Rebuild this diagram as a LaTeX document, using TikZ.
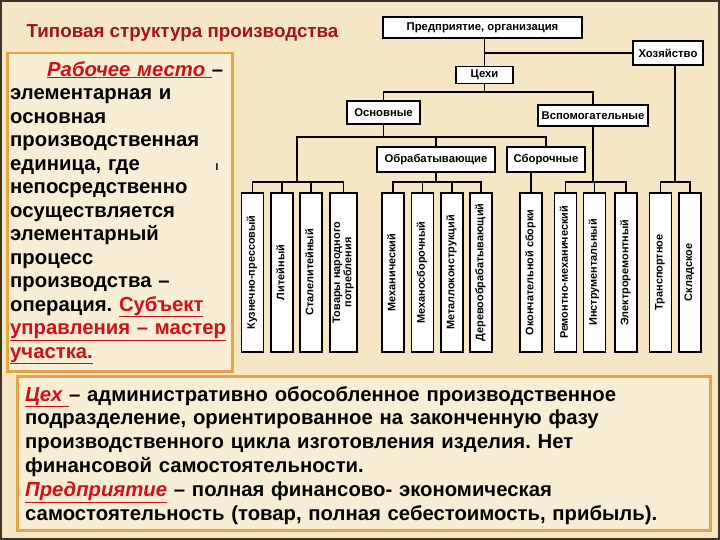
\documentclass[tikz,border=0pt]{standalone}
\usepackage{fontspec}
\setmainfont{Liberation Sans}
\usetikzlibrary{calc}
\definecolor{bgcream}{HTML}{F5E7C4}
\definecolor{framegold}{HTML}{E3A54A}
\definecolor{titlered}{HTML}{A8121A}
\definecolor{linkred}{HTML}{D0101A}
\definecolor{slideedge}{HTML}{3C3424}
\newcommand{\vtext}[1]{\rotatebox{90}{\begin{tabular}{@{}c@{}}#1\end{tabular}}}
\newcommand{\redul}[1]{{\color{linkred}\underline{#1}}}
\frenchspacing

\begin{document}
\begin{tikzpicture}[x=1pt,y=-1pt]
    \tikzset{
        ts box/.style={draw,line width=1.6pt,fill=white,inner sep=1pt,font=\fontsize{11.3}{12}\selectfont\bfseries},
        ts col/.style={draw,line width=1.6pt,fill=white,minimum width=22pt,minimum height=159pt,inner sep=0pt,font=\fontsize{10.9}{11.2}\selectfont\bfseries},
        ts edge/.style={line width=1.6pt},
        ts frame/.style={draw=framegold,line width=2.5pt,fill=bgcream!70!white,anchor=north west},
        ts text/.style={anchor=north west,align=left,inner sep=0pt}
    }
    \useasboundingbox (0,0) rectangle (720,540);
    \fill[bgcream] (0,0) rectangle (720,540);
    \draw[slideedge,line width=2pt] (1,1) rectangle (719,539);

    % title and text boxes
    \node[font=\fontsize{18.8}{20}\selectfont\bfseries,text=titlered] (title) at (182.5,33) {Типовая структура производства};
    \node[ts frame,minimum width=225pt,minimum height=318pt] (lbox) at (6,52) {};
    \node[ts text,text width=222pt,font=\fontsize{20.3}{23.5}\selectfont\bfseries] (ltext) at (10,61) {\hspace*{37pt}\redul{\itshape Рабочее место }–\\
        элементарная и\\
        основная\\
        производственная\\
        единица, где\\
        непосредственно\\
        осуществляется\\
        элементарный\\
        процесс\\
        производства –\\
        операция. \redul{Субъект}\\
        \redul{управления – мастер}\\
        \redul{участка.}};
    \node[font=\fontsize{10}{10}\selectfont\bfseries] (tick) at (217,167) {I};
    \node[ts frame,minimum width=693pt,minimum height=154pt] (bbox) at (16,375) {};
    \node[ts text,text width=680pt,font=\fontsize{20.3}{23.8}\selectfont\bfseries] (btext) at (25,386) {\redul{\itshape Цех }– административно обособленное производственное\\
        подразделение, ориентированное на законченную фазу\\
        производственного цикла изготовления изделия. Нет\\
        финансовой самостоятельности.\\
        \redul{\itshape Предприятие} – полная финансово- экономическая\\
        самостоятельность (товар, полная себестоимость, прибыль).};

    % chart
    \node[ts box,minimum width=199pt,minimum height=21pt] (pred) at (482.5,27.5) {Предприятие, организация};
    \node[ts box,minimum width=70pt,minimum height=24pt] (khoz) at (668,53) {Хозяйство};
    \node[ts box,minimum width=57pt,minimum height=17pt] (cekhi) at (484.5,75) {Цехи};
    \node[ts box,minimum width=73pt,minimum height=23pt] (osn) at (383.5,112.5) {Основные};
    \node[ts box,minimum width=110pt,minimum height=21pt] (vspom) at (593,115.5) {Вспомогательные};
    \node[ts box,minimum width=118pt,minimum height=25pt] (obr) at (436,159.5) {Обрабатывающие};
    \node[ts box,minimum width=78pt,minimum height=25pt] (sbor) at (546,159.5) {Сборочные};

    \node[ts col] (kuz) at (252.5,272.5) {\vtext{Кузнечно-прессовый}};
    \node[ts col] (lit) at (282,272.5) {\vtext{Литейный}};
    \node[ts col] (stal) at (311,272.5) {\vtext{Сталелитейный}};
    \node[ts col,minimum width=27pt] (tov) at (343.5,272.5) {\vtext{Товары народного\\потребления}};
    \node[ts col] (mekh) at (393,272.5) {\vtext{Механический}};
    \node[ts col] (mekhsb) at (422.5,272.5) {\vtext{Механосборочный}};
    \node[ts col] (met) at (452,272.5) {\vtext{Металлоконструкций}};
    \node[ts col] (der) at (481,272.5) {\vtext{Деревообрабатывающий}};
    \node[ts col] (okon) at (531,272.5) {\vtext{Окончательной сборки}};
    \node[ts col] (rem) at (565.5,272.5) {\vtext{Ремонтно-механический}};
    \node[ts col] (instr) at (594.5,272.5) {\vtext{Инструментальный}};
    \node[ts col] (elek) at (626,272.5) {\vtext{Электроремонтный}};
    \node[ts col] (trans) at (660.5,272.5) {\vtext{Транспортное}};
    \node[ts col] (sklad) at (690,272.5) {\vtext{Складское}};

    \coordinate (bus1) at (0,92);
    \coordinate (bus2) at (297,137);
    \coordinate (bus3) at (297,182);
    \coordinate (hzmid) at ($(trans.north)!0.5!(sklad.north)$);

    \draw[ts edge] (cekhi.north |- pred.south) -- (cekhi.north);
    \draw[ts edge] (cekhi.north |- khoz.west) -- (khoz.west);
    \draw[ts edge] (cekhi.south) -- (cekhi.south |- bus1);
    \draw[ts edge] (osn.north) |- (vspom.north |- bus1) -- (vspom.north);
    \draw[ts edge] (osn.south) -- (osn.south |- bus2);
    \draw[ts edge] (bus3) -- (bus2) -- (bus2 -| sbor.north) -- (sbor.north);
    \draw[ts edge] (obr.north) -- (obr.north |- bus2);
    % Основные
    \draw[ts edge] (kuz.north) |- (tov.north |- bus3) -- (tov.north);
    \draw[ts edge] (lit.north) -- (lit.north |- bus3);
    \draw[ts edge] (stal.north) -- (stal.north |- bus3);
    % Обрабатывающие
    \draw[ts edge] (obr.south) -- (obr.south |- bus3);
    \draw[ts edge] (mekh.north) |- (der.north |- bus3) -- (der.north);
    \draw[ts edge] (mekhsb.north) -- (mekhsb.north |- bus3);
    \draw[ts edge] (met.north) -- (met.north |- bus3);
    % Сборочные
    \draw[ts edge] (sbor.south -| okon.north) -- (okon.north);
    % Вспомогательные
    \draw[ts edge] (vspom.south) -- (vspom.south |- bus3);
    \draw[ts edge] (rem.north) |- (elek.north |- bus3) -- (elek.north);
    \draw[ts edge] (instr.north) -- (instr.north |- bus3);
    % Хозяйство
    \draw[ts edge] (khoz.south -| hzmid) -- (hzmid |- bus3);
    \draw[ts edge] (trans.north) |- (sklad.north |- bus3) -- (sklad.north);
\end{tikzpicture}
\end{document}
